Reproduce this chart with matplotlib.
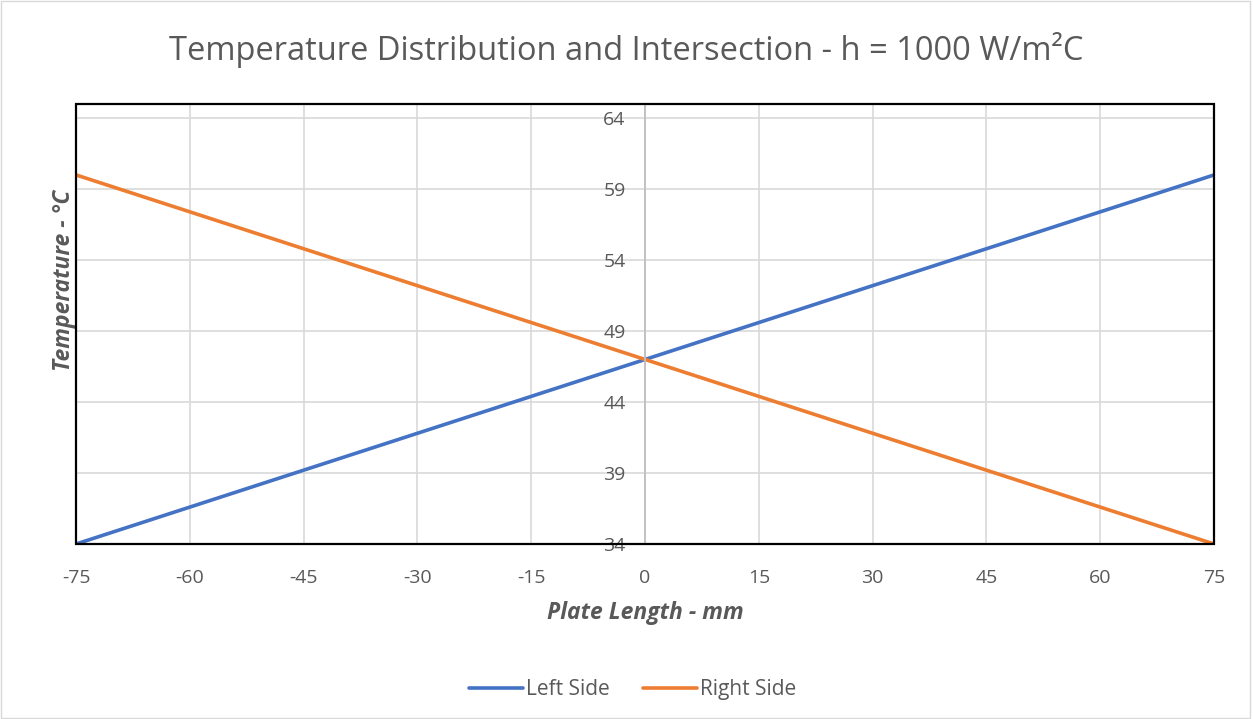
import matplotlib
matplotlib.use("Agg")
import matplotlib.pyplot as plt
from matplotlib.patches import Rectangle

plt.rcParams["font.family"] = ["Open Sans", "DejaVu Sans"]
plt.rcParams["axes.unicode_minus"] = False

# data (plate position in mm, temperature in °C)
plate_mm = [-75, 0, 75]
left_side = [34.0, 47.0, 60.0]
right_side = [60.0, 47.0, 34.0]

x_ticks = list(range(-75, 76, 15))
y_ticks = list(range(34, 65, 5))

BLUE = "#4472C4"
ORANGE = "#ED7D31"
TXT = "#595959"

fig = plt.figure(figsize=(12.53, 7.19), dpi=100)
ax = fig.add_axes([0.0607, 0.2434, 0.9082, 0.612])

ax.plot(plate_mm, left_side, color=BLUE, lw=2.6, label="Left Side", solid_capstyle="round")
ax.plot(plate_mm, right_side, color=ORANGE, lw=2.6, label="Right Side", solid_capstyle="round")

ax.set_xlim(-75, 75)
ax.set_ylim(34, 65)
ax.set_xticks(x_ticks)
ax.set_yticks(y_ticks)
ax.grid(True, color="#d9d9d9", lw=1.2)
ax.set_axisbelow(True)

# value axis crosses at x = 0, drawn as a grey line
ax.spines["left"].set_position(("data", 0))
ax.spines["left"].set_color("#bfbfbf")
ax.spines["left"].set_linewidth(1.3)
for s in ["top", "right", "bottom"]:
    ax.spines[s].set_visible(False)
ax.add_patch(Rectangle((0, 0), 1, 1, transform=ax.transAxes, fill=False,
                       edgecolor="black", lw=1.6, zorder=5, clip_on=False))

ax.tick_params(axis="both", length=0, colors=TXT, labelsize=14)
ax.tick_params(axis="y", pad=14)
ax.tick_params(axis="x", pad=18)

ax.set_xlabel("Plate Length - mm", fontsize=16.5, fontweight="bold", style="italic",
              color=TXT, labelpad=10)
ax.set_ylabel("Temperature - °C", fontsize=16.5, fontweight="bold", style="italic",
              color=TXT)
ax.yaxis.set_label_coords(0.0, 0.6)

fig.text(0.5, 0.93, "Temperature Distribution and Intersection - h = 1000 W/m²C",
         fontsize=23.5, color=TXT, ha="center", va="center")

fig.legend(loc="lower center", ncol=2, frameon=False, fontsize=15,
           labelcolor=TXT, bbox_to_anchor=(0.505, 0.0), handlelength=2.6,
           columnspacing=1.6, handletextpad=0.15)

# light chart-area border
fig.add_artist(Rectangle((0.001, 0.002), 0.997, 0.996, transform=fig.transFigure,
                         fill=False, edgecolor="#d9d9d9", lw=1))

fig.savefig("out.png", dpi=100)
